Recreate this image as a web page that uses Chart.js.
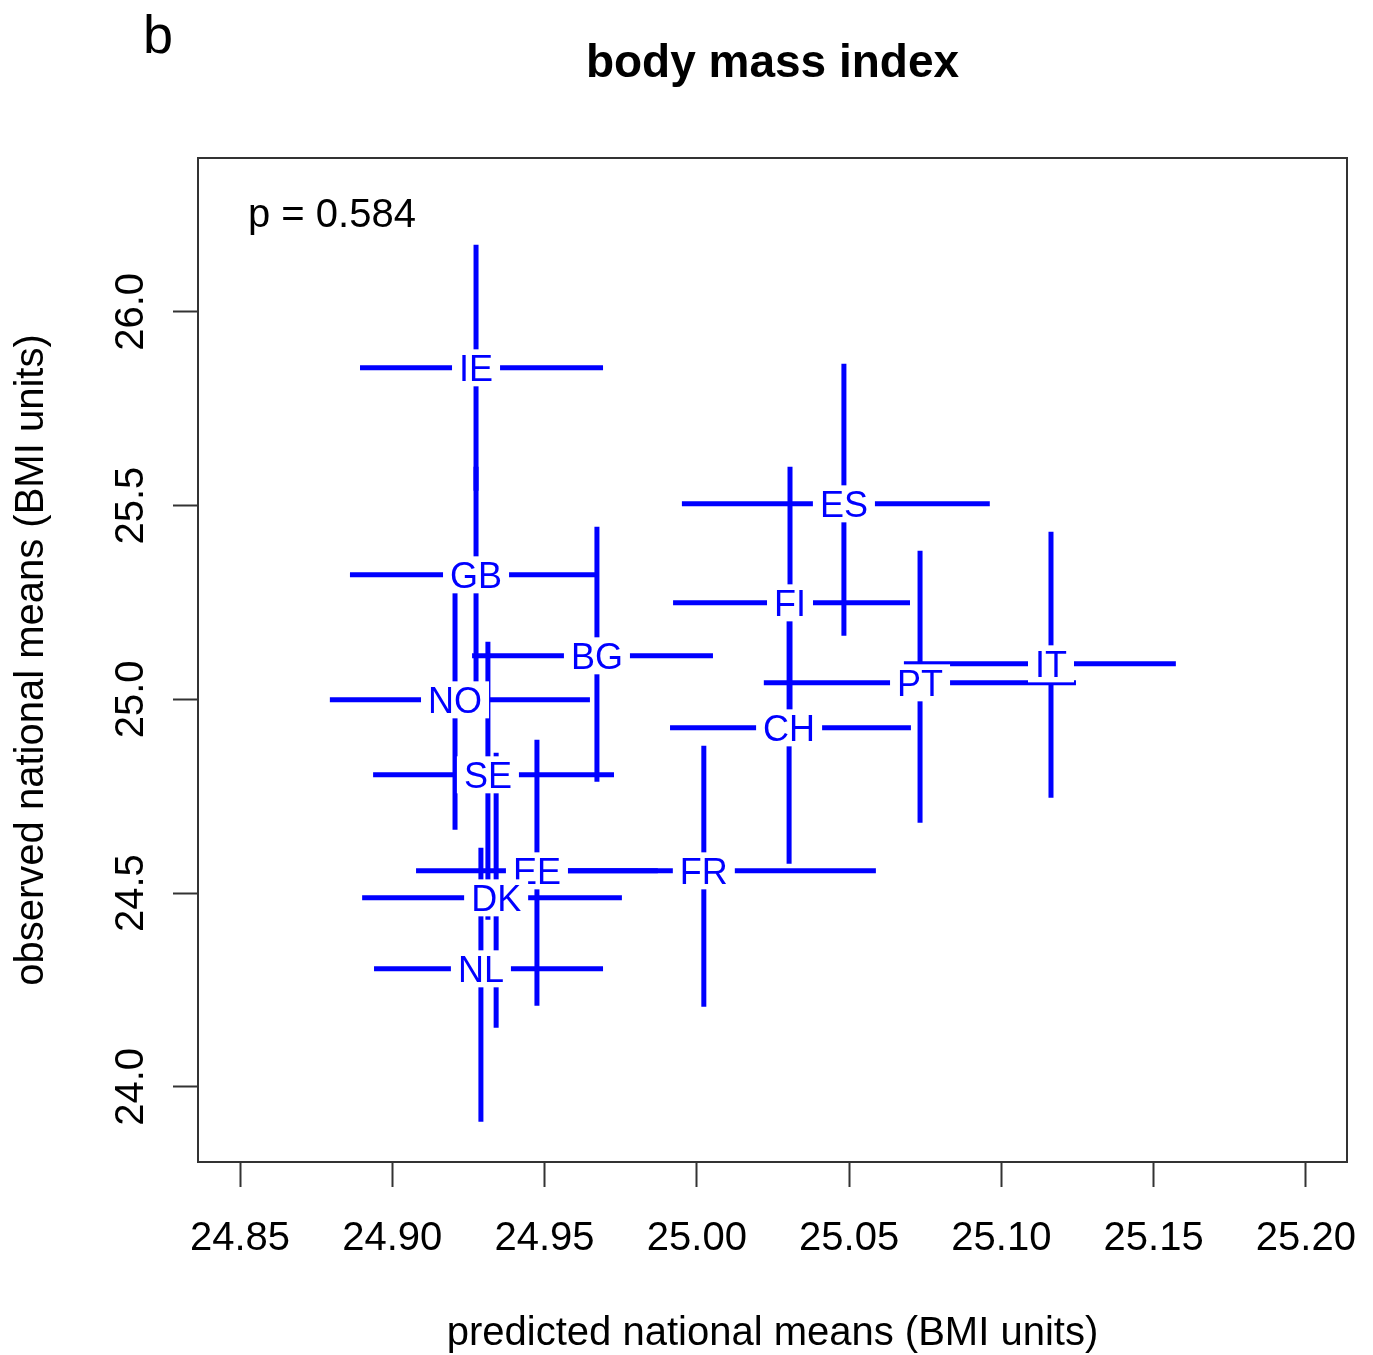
<!DOCTYPE html>
<html>
<head>
<meta charset="utf-8">
<title>body mass index</title>
<script src="https://cdn.jsdelivr.net/npm/chart.js@4.4.1/dist/chart.umd.min.js"></script>
<style>
  html, body { margin: 0; padding: 0; background: #fff; }
  canvas { display: block; }
</style>
</head>
<body>
<canvas id="bmi-chart" width="1373" height="1355"></canvas>
<script>
// Country estimates
const countries = ["IE", "GB", "BG", "NO", "SE", "EE", "FR", "DK", "NL", "ES", "FI", "CH", "PT", "IT"];
const predicted = [24.9275, 24.9275, 24.9672, 24.9206, 24.9314, 24.9475, 25.0023, 24.9341, 24.9291, 25.0483, 25.0306, 25.0303, 25.0733, 25.1163];
const predLow   = [24.8894, 24.8861, 24.9262, 24.8795, 24.8937, 24.9078, 24.9465, 24.8901, 24.8940, 24.9951, 24.9922, 24.9912, 25.0220, 25.0680];
const predHigh  = [24.9692, 24.9672, 25.0053, 24.9649, 24.9728, 24.9872, 25.0588, 24.9754, 24.9692, 25.0962, 25.0700, 25.0703, 25.1245, 25.1573];
const observed  = [25.8555, 25.3213, 25.1123, 24.9987, 24.8052, 24.5574, 24.5574, 24.4877, 24.3045, 25.5045, 25.2490, 24.9264, 25.0426, 25.0916];
const obsLow    = [25.5380, 25.0426, 24.7871, 24.6632, 24.4310, 24.2090, 24.2065, 24.1523, 23.9097, 25.1639, 24.8980, 24.5755, 24.6813, 24.7458];
const obsHigh   = [26.1729, 25.6000, 25.4452, 25.2748, 25.1484, 24.8955, 24.8800, 24.8620, 24.6168, 25.8658, 25.6000, 25.2774, 25.3832, 25.4323];

const xTicks = [24.85, 24.90, 24.95, 25.00, 25.05, 25.10, 25.15, 25.20];
const yTicks = [24.0, 24.5, 25.0, 25.5, 26.0];

const FONT = '"Liberation Sans", Arial, Helvetica, sans-serif';
const BLUE = "#0000ff";
const AXIS_COLOR = "#333333";

// Draws the crosses, the labels on white boxes and the R-style decorations
const crossPlugin = {
  id: "crosses",
  beforeDraw(chart) {
    const ctx = chart.ctx;
    ctx.save();
    ctx.fillStyle = "#fff";
    ctx.fillRect(0, 0, chart.width, chart.height);
    ctx.restore();
  },
  afterDatasetsDraw(chart) {
    const ctx = chart.ctx;
    const xs = chart.scales.x;
    const ys = chart.scales.y;
    const area = chart.chartArea;

    ctx.save();
    ctx.beginPath();
    ctx.rect(area.left, area.top, area.right - area.left, area.bottom - area.top);
    ctx.clip();

    // horizontal and vertical intervals
    ctx.strokeStyle = BLUE;
    ctx.lineWidth = 5;
    ctx.lineCap = "butt";
    countries.forEach((name, i) => {
      const cx = xs.getPixelForValue(predicted[i]);
      const cy = ys.getPixelForValue(observed[i]);
      ctx.beginPath();
      ctx.moveTo(xs.getPixelForValue(predLow[i]), cy);
      ctx.lineTo(xs.getPixelForValue(predHigh[i]), cy);
      ctx.moveTo(cx, ys.getPixelForValue(obsLow[i]));
      ctx.lineTo(cx, ys.getPixelForValue(obsHigh[i]));
      ctx.stroke();
    });

    // country codes on white boxes
    ctx.font = "36px " + FONT;
    ctx.textAlign = "center";
    ctx.textBaseline = "alphabetic";
    countries.forEach((name, i) => {
      const cx = xs.getPixelForValue(predicted[i]);
      const cy = ys.getPixelForValue(observed[i]);
      const w = ctx.measureText(name).width;
      ctx.fillStyle = "#fff";
      ctx.fillRect(cx - w / 2 - 7, cy - 18.5, w + 14, 37);
      ctx.fillStyle = BLUE;
      ctx.fillText(name, cx, cy + 36 * 0.358);
    });
    ctx.restore();

    ctx.save();
    // plot box
    ctx.strokeStyle = AXIS_COLOR;
    ctx.lineWidth = 2;
    ctx.strokeRect(area.left, area.top, area.right - area.left, area.bottom - area.top);

    ctx.fillStyle = "#000";
    ctx.font = "40px " + FONT;
    ctx.textAlign = "center";
    ctx.textBaseline = "alphabetic";

    // x tick labels
    xTicks.forEach((v) => {
      ctx.fillText(v.toFixed(2), xs.getPixelForValue(v), 1250);
    });

    // y tick labels, rotated like R's default las=0
    yTicks.forEach((v) => {
      ctx.save();
      ctx.translate(143, ys.getPixelForValue(v));
      ctx.rotate(-Math.PI / 2);
      ctx.fillText(v.toFixed(1), 0, 0);
      ctx.restore();
    });

    // axis titles
    const midX = (area.left + area.right) / 2;
    const midY = (area.top + area.bottom) / 2;
    ctx.fillText("predicted national means (BMI units)", midX, 1345);
    ctx.save();
    ctx.translate(43, midY);
    ctx.rotate(-Math.PI / 2);
    ctx.fillText("observed national means (BMI units)", 0, 0);
    ctx.restore();

    // p value
    ctx.textAlign = "left";
    ctx.fillText("p = 0.584", 248, 227);

    // main title and panel letter
    ctx.textAlign = "center";
    ctx.font = "bold 46px " + FONT;
    ctx.fillText("body mass index", midX, 77);
    ctx.textAlign = "left";
    ctx.font = "54px " + FONT;
    ctx.fillText("b", 143, 53);
    ctx.restore();
  },
};

const ctx = document.getElementById("bmi-chart").getContext("2d");

new Chart(ctx, {
  type: "scatter",
  data: {
    datasets: [
      {
        label: "countries",
        data: countries.map((c, i) => ({ x: predicted[i], y: observed[i] })),
        pointRadius: 0,
        pointHoverRadius: 0,
      },
    ],
  },
  options: {
    responsive: false,
    animation: false,
    devicePixelRatio: 1,
    layout: {
      padding: { top: 158, right: 26, left: 0, bottom: 0 },
    },
    plugins: {
      legend: { display: false },
      tooltip: { enabled: false },
    },
    scales: {
      x: {
        type: "linear",
        min: 24.8362,
        max: 25.2135,
        afterBuildTicks: (scale) => {
          scale.ticks = xTicks.map((v) => ({ value: v }));
        },
        afterFit: (scale) => {
          scale.height = 193;
        },
        ticks: { display: false },
        border: { display: false },
        grid: {
          drawOnChartArea: false,
          drawTicks: true,
          tickLength: 25,
          tickWidth: 2,
          tickColor: AXIS_COLOR,
        },
      },
      y: {
        type: "linear",
        min: 23.806,
        max: 26.397,
        afterBuildTicks: (scale) => {
          scale.ticks = yTicks.map((v) => ({ value: v }));
        },
        afterFit: (scale) => {
          scale.width = 198;
        },
        ticks: { display: false },
        border: { display: false },
        grid: {
          drawOnChartArea: false,
          drawTicks: true,
          tickLength: 25,
          tickWidth: 2,
          tickColor: AXIS_COLOR,
        },
      },
    },
  },
  plugins: [crossPlugin],
});
</script>
</body>
</html>
